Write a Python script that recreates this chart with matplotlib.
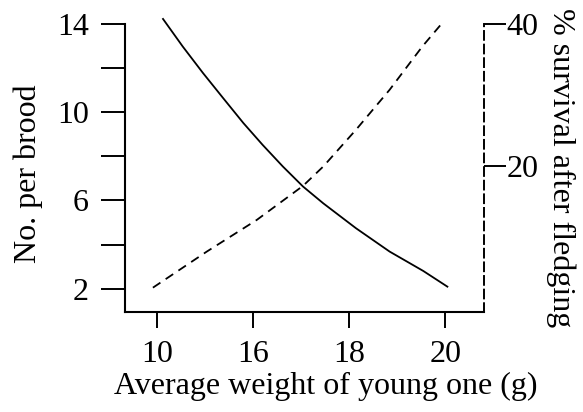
import matplotlib
matplotlib.use("Agg")
import matplotlib.pyplot as plt

plt.rcParams["font.family"] = ["Liberation Serif", "DejaVu Serif"]

# x positions on the (evenly spaced) weight axis
weight_labels = ["10", "16", "18", "20"]
weight_ticks = [0, 1, 2, 3]

# solid curve: number per brood (left axis)
brood_x = [0.065, 0.27, 0.48, 0.69, 0.90, 1.10, 1.31, 1.52, 1.73, 2.07, 2.42, 2.77, 3.02]
brood_y = [14.23, 12.98, 11.78, 10.64, 9.51, 8.52, 7.54, 6.63, 5.87, 4.74, 3.68, 2.80, 2.09]

# dashed curve: % survival after fledging (right axis)
surv_x = [-0.04, 0.52, 1.04, 1.52, 1.73, 2.07, 2.42, 2.76, 2.96]
surv_y = [2.74, 7.84, 12.32, 17.13, 19.86, 25.05, 30.71, 36.83, 40.04]

left_ticks = [2, 4, 6, 8, 10, 12, 14]
left_labels = ["2", "", "6", "", "10", "", "14"]
right_ticks = [20, 40]

fs = 23

fig = plt.figure(figsize=(5.83, 4.12), dpi=100)
ax = fig.add_axes([0.2144, 0.2427, 0.6157, 0.699])
ax2 = ax.twinx()

ax.plot(brood_x, brood_y, color="black", lw=1.3, clip_on=False)
ax2.plot(surv_x, surv_y, color="black", lw=1.3, linestyle=(0, (5, 3.5)), clip_on=False)

ax.set_xlim(-0.33, 3.40)
ax.set_ylim(0.94, 14)
ax2.set_ylim(-0.7, 40)

ax.set_xticks(weight_ticks)
ax.set_xticklabels(weight_labels)
ax.set_yticks(left_ticks)
ax.set_yticklabels(left_labels)
ax2.set_yticks(right_ticks)

for a in (ax, ax2):
    a.spines["top"].set_visible(False)
ax2.spines["left"].set_visible(False)
ax2.spines["bottom"].set_visible(False)
ax.spines["right"].set_visible(False)
ax2.spines["right"].set_linestyle((0, (4.5, 2.5)))
ax2.spines["right"].set_linewidth(1.4)
ax.spines["left"].set_linewidth(1.5)
ax.spines["bottom"].set_linewidth(1.5)

ax.tick_params(axis="y", direction="out", length=17, width=1.4, pad=9, labelsize=fs)
ax.tick_params(axis="x", direction="out", length=11.5, width=1.4, pad=9, labelsize=fs)
ax2.tick_params(axis="y", direction="out", length=16, width=1.4, pad=0, labelsize=fs)

ax.set_ylabel("No. per brood", fontsize=fs, labelpad=10)
ax.yaxis.label.set_y(0.48)
ax.set_xlabel("Average weight of young one (g)", fontsize=fs, labelpad=2)
ax.xaxis.label.set_x(0.56)
ax2.set_ylabel("% survival after fledging", fontsize=fs, rotation=-90, labelpad=27)

fig.savefig("out.png", dpi=100)
